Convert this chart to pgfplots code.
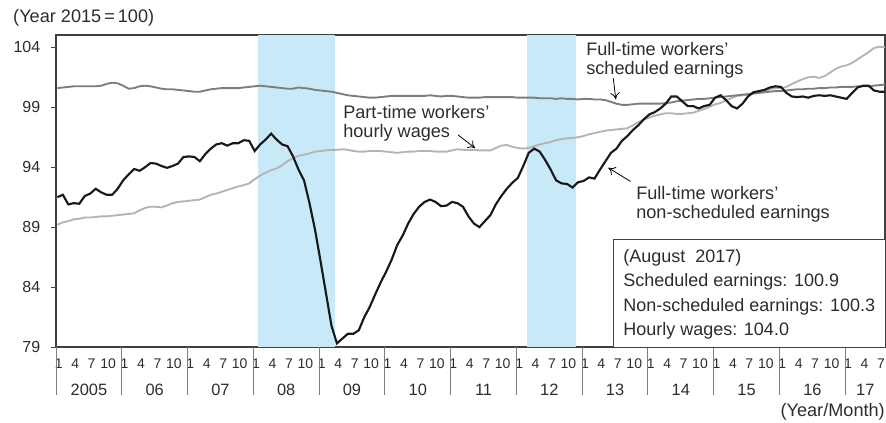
\documentclass[border=0pt]{standalone}
\usepackage{fontspec}
\setmainfont{Liberation Sans}
\usepackage{pgfplots}
\usepackage{pgfplotstable}
\pgfplotsset{compat=1.18}
\usetikzlibrary{arrows.meta}
\definecolor{shade}{RGB}{199,233,248}
\definecolor{midgray}{RGB}{125,125,125}
\definecolor{lightgray}{RGB}{180,180,180}
\definecolor{txt}{RGB}{45,45,45}
\pgfplotstableread{
i ns sc hw
0 91.5 100.6 89.2
1 91.7 100.65 89.4
2 90.9 100.7 89.5
3 91.0 100.75 89.65
4 90.95 100.75 89.7
5 91.6 100.75 89.8
6 91.8 100.75 89.8
7 92.2 100.75 89.85
8 91.9 100.8 89.9
9 91.7 100.95 89.9
10 91.7 101.05 89.95
11 92.2 101.0 90.0
12 92.9 100.8 90.05
13 93.4 100.55 90.1
14 93.85 100.6 90.15
15 93.7 100.75 90.4
16 94.0 100.8 90.6
17 94.35 100.75 90.7
18 94.3 100.65 90.7
19 94.1 100.55 90.65
20 93.95 100.5 90.8
21 94.1 100.5 91.0
22 94.3 100.45 91.1
23 94.85 100.4 91.15
24 94.9 100.35 91.2
25 94.85 100.3 91.25
26 94.5 100.3 91.3
27 95.1 100.4 91.5
28 95.55 100.5 91.7
29 95.9 100.55 91.8
30 96.0 100.6 91.95
31 95.8 100.6 92.1
32 96.0 100.6 92.25
33 96.0 100.6 92.4
34 96.25 100.65 92.5
35 96.2 100.7 92.65
36 95.35 100.75 93.0
37 95.9 100.8 93.3
38 96.3 100.75 93.55
39 96.8 100.7 93.75
40 96.3 100.65 93.9
41 95.9 100.6 94.15
42 95.75 100.55 94.5
43 94.9 100.55 94.75
44 93.8 100.65 94.95
45 92.9 100.6 95.05
46 91.0 100.55 95.15
47 88.8 100.45 95.3
48 86.2 100.4 95.35
49 83.5 100.35 95.4
50 80.8 100.3 95.45
51 79.3 100.2 95.45
52 79.7 100.1 95.5
53 80.1 100.0 95.45
54 80.1 99.95 95.35
55 80.4 99.9 95.3
56 81.5 99.85 95.3
57 82.35 99.8 95.35
58 83.4 99.8 95.35
59 84.4 99.85 95.35
60 85.3 99.9 95.3
61 86.3 99.95 95.25
62 87.5 99.95 95.2
63 88.3 99.95 95.25
64 89.3 99.95 95.3
65 90.1 99.95 95.3
66 90.7 99.95 95.35
67 91.1 99.95 95.35
68 91.3 100.0 95.35
69 91.1 99.95 95.3
70 90.75 99.9 95.3
71 90.8 99.95 95.3
72 91.1 99.95 95.4
73 91.0 99.9 95.5
74 90.7 99.85 95.45
75 89.9 99.8 95.45
76 89.3 99.8 95.45
77 89.0 99.8 95.4
78 89.5 99.85 95.4
79 90.0 99.85 95.4
80 90.9 99.85 95.6
81 91.6 99.85 95.8
82 92.2 99.85 95.85
83 92.7 99.85 95.7
84 93.1 99.8 95.6
85 94.1 99.8 95.55
86 95.2 99.8 95.6
87 95.55 99.8 95.75
88 95.3 99.75 95.9
89 94.6 99.75 96.0
90 93.8 99.75 96.1
91 92.9 99.7 96.25
92 92.65 99.75 96.35
93 92.6 99.7 96.4
94 92.3 99.7 96.45
95 92.75 99.65 96.5
96 92.85 99.7 96.6
97 93.15 99.7 96.75
98 93.05 99.65 96.85
99 93.8 99.65 96.95
100 94.5 99.6 97.05
101 95.2 99.45 97.1
102 95.55 99.3 97.15
103 96.2 99.2 97.2
104 96.6 99.2 97.25
105 97.1 99.25 97.5
106 97.5 99.3 97.75
107 98.0 99.3 97.95
108 98.4 99.3 98.15
109 98.6 99.3 98.3
110 98.9 99.3 98.4
111 99.3 99.35 98.5
112 99.9 99.4 98.5
113 99.9 99.5 98.45
114 99.5 99.55 98.45
115 99.1 99.6 98.5
116 99.1 99.65 98.55
117 98.9 99.7 98.7
118 99.1 99.7 98.85
119 99.2 99.75 99.05
120 99.8 99.8 99.25
121 100.0 99.85 99.35
122 99.6 99.9 99.6
123 99.1 99.95 99.75
124 98.9 100.0 99.95
125 99.3 100.05 100.0
126 99.9 100.1 100.05
127 100.25 100.15 100.15
128 100.35 100.2 100.2
129 100.45 100.25 100.3
130 100.65 100.3 100.5
131 100.75 100.35 100.6
132 100.7 100.35 100.6
133 100.2 100.4 100.7
134 99.9 100.45 100.95
135 99.85 100.5 101.15
136 99.9 100.5 101.35
137 99.8 100.55 101.5
138 99.95 100.55 101.55
139 100.0 100.6 101.45
140 99.95 100.6 101.6
141 100.0 100.65 101.9
142 99.9 100.65 102.2
143 99.8 100.7 102.4
144 99.7 100.7 102.5
145 100.2 100.7 102.7
146 100.65 100.75 103.0
147 100.8 100.75 103.3
148 100.8 100.75 103.6
149 100.4 100.8 103.95
150 100.3 100.85 104.05
151 100.3 100.9 104.0
}\wagedata
\begin{document}
\begin{tikzpicture}
\begin{axis}[
  scale only axis, width=621.75pt, height=234pt,
  xmin=-0.25, xmax=151, ymin=79, ymax=105.03,
  clip mode=individual,
  axis line style={draw=black!75, line width=0.8pt},
  ytick={79,84,89,94,99,104},
  ytick pos=left, xtick pos=bottom,
  tick align=outside,
  major tick length=3.75pt,
  y tick style={draw=black!75, line width=0.6pt},
  x tick style={draw=none},
  xtick={0.25,3.25,...,150.25},
  xticklabels={1,4,7,10,1,4,7,10,1,4,7,10,1,4,7,10,1,4,7,10,1,4,7,10,1,4,7,10,1,4,7,10,1,4,7,10,1,4,7,10,1,4,7,10,1,4,7,10,1,4,7},
  xticklabel style={font=\fontsize{10.5pt}{11pt}\selectfont, text=txt, yshift=-1.5pt},
  yticklabel style={font=\fontsize{12pt}{12.5pt}\selectfont, text=txt, xshift=-4.5pt},
  /pgf/number format/assume math mode=true,
]
% recession shading
\addplot[draw=none, fill=shade] coordinates {(36.6,105.03) (50.6,105.03)} \closedcycle;
\addplot[draw=none, fill=shade] coordinates {(85.75,105.03) (94.7,105.03)} \closedcycle;
% series
\addplot[lightgray, line width=1.4pt] table[x=i, y=hw] {\wagedata};
\addplot[midgray, line width=1.4pt] table[x=i, y=sc] {\wagedata};
\addplot[black!90, line width=1.6pt] table[x=i, y=ns] {\wagedata};
% year separators
\pgfplotsinvokeforeach{-0.25,11.75,...,143.75}{
  \draw[draw=midgray, line width=0.7pt] (axis cs:#1,79) -- ++(0pt,-36pt);
}
% year labels
\begin{scope}[every node/.style={font=\fontsize{12.3pt}{13pt}\selectfont, text=txt}]
\node at (axis cs:5.75,75.4) {2005};
\node at (axis cs:17.75,75.4) {06};
\node at (axis cs:29.75,75.4) {07};
\node at (axis cs:41.75,75.4) {08};
\node at (axis cs:53.75,75.4) {09};
\node at (axis cs:65.75,75.4) {10};
\node at (axis cs:77.75,75.4) {11};
\node at (axis cs:89.75,75.4) {12};
\node at (axis cs:101.75,75.4) {13};
\node at (axis cs:113.75,75.4) {14};
\node at (axis cs:125.75,75.4) {15};
\node at (axis cs:137.75,75.4) {16};
\node at (axis cs:147.4,75.4) {17};
\end{scope}
\begin{scope}[every node/.style={font=\fontsize{13.6pt}{14pt}\selectfont, text=txt, inner sep=0pt}]
\node[anchor=west] at (axis cs:-8.1,106.45) {(Year 2015{\,}={\,}100)};
\node[anchor=east] at (axis cs:151,73.6) {(Year/Month)};
\node[anchor=north west, align=left] at (axis cs:52.11,99.19) {Part-time workers’\\hourly wages};
\node[anchor=north west, align=left] at (axis cs:96.45,104.45) {Full-time workers’\\scheduled earnings};
\node[anchor=north west, align=left] at (axis cs:105.57,92.43) {Full-time workers’\\non-scheduled earnings};
\end{scope}
\draw[-{To[length=5pt,width=7pt]}, line width=0.6pt] (axis cs:73.1,96.69) -- (axis cs:76.2,95.60);
\draw[-{To[length=5pt,width=7pt]}, line width=0.6pt] (axis cs:101.43,101.42) -- (axis cs:101.87,99.67);
\draw[-{To[length=5pt,width=7pt]}, line width=0.6pt] (axis cs:104.57,92.81) -- (axis cs:100.52,93.95);
% info box
\draw[draw=black!75, line width=0.7pt, fill=white] (axis cs:101.43,79) rectangle (axis cs:151,87.93);
\begin{scope}[every node/.style={font=\fontsize{13.5pt}{14pt}\selectfont, text=txt, inner sep=0pt, anchor=base west}]
\node at (axis cs:103.2,86.01) {(August\ \ 2017)};
\node at (axis cs:103.2,84.01) {Scheduled earnings: 100.9};
\node at (axis cs:103.2,82.0) {Non-scheduled earnings: 100.3};
\node at (axis cs:103.2,80.0) {Hourly wages: 104.0};
\end{scope}
\coordinate (bbsw) at (rel axis cs:-0.06755,-0.24359);
\coordinate (bbne) at (rel axis cs:1.001206,1.11218);
\end{axis}
\pgfresetboundingbox
\path[use as bounding box] (bbsw) rectangle (bbne);
\end{tikzpicture}
\end{document}
